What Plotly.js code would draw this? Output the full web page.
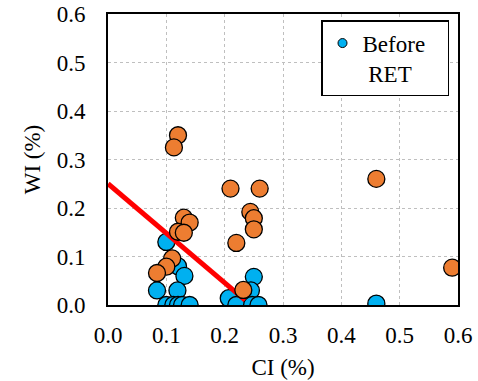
<!DOCTYPE html>
<html>
<head>
<meta charset="utf-8">
<script src="https://cdn.plot.ly/plotly-3.0.1.min.js"></script>
<style>html,body{margin:0;padding:0;background:#fff;}#chart{width:478px;height:381px;}</style>
</head>
<body>
<div id="chart"></div>
<script>
// Before RET (blue)
const beforeCI = [0.10, 0.12, 0.131, 0.084, 0.119, 0.10, 0.112, 0.12, 0.127, 0.14, 0.25, 0.245, 0.207, 0.22, 0.247, 0.258, 0.46];
const beforeWI = [0.13, 0.08, 0.06, 0.03, 0.03, 0.0, 0.0, 0.0, 0.0, 0.0, 0.058, 0.03, 0.014, 0.0, 0.0, 0.0, 0.003];
// After RET (orange)
const afterCI = [0.12, 0.113, 0.21, 0.26, 0.244, 0.25, 0.25, 0.22, 0.232, 0.46, 0.59, 0.13, 0.14, 0.12, 0.13, 0.11, 0.10, 0.084];
const afterWI = [0.35, 0.325, 0.24, 0.24, 0.192, 0.179, 0.156, 0.128, 0.031, 0.26, 0.077, 0.18, 0.17, 0.151, 0.149, 0.096, 0.079, 0.066];
// Red trend line
const lineCI = [0, 0.235];
const lineWI = [0.25, 0.01];
const xTicks = [0, 0.1, 0.2, 0.3, 0.4, 0.5, 0.6];
const yTicks = [0, 0.1, 0.2, 0.3, 0.4, 0.5, 0.6];
const legendName = 'Before\u00a0\u00a0\u00a0<br>\u00a0RET';

const font = {family: 'Times New Roman, Liberation Serif, DejaVu Serif, serif', size: 23, color: '#000'};

const traces = [
  {x: beforeCI, y: beforeWI, type: 'scatter', mode: 'markers', showlegend: false,
   marker: {color: '#00B0F0', size: 17, line: {color: '#000', width: 1.3}}},
  {x: lineCI, y: lineWI, type: 'scatter', mode: 'lines', showlegend: false,
   line: {color: '#FF0000', width: 5}},
  {x: afterCI, y: afterWI, type: 'scatter', mode: 'markers', showlegend: false,
   marker: {color: '#ED7D31', size: 17, line: {color: '#000', width: 1.3}}},
  {x: [null], y: [null], type: 'scatter', mode: 'markers', name: legendName, showlegend: true,
   marker: {color: '#00B0F0', size: 9, line: {color: '#000', width: 1}}}
];

const axisCommon = {
  showline: true, linecolor: '#000', linewidth: 2, mirror: true,
  showgrid: true, gridcolor: '#BFBFBF', gridwidth: 1, griddash: 'dot',
  zeroline: false, ticks: '', tickfont: font, tickformat: '.1f', fixedrange: true
};

const layout = {
  width: 478, height: 381,
  margin: {l: 108, r: 20, t: 14, b: 76},
  paper_bgcolor: '#fff', plot_bgcolor: '#fff',
  font: font,
  xaxis: Object.assign({}, axisCommon, {range: [0, 0.6], tickvals: xTicks, ticklabelstandoff: 8,
    title: {text: 'CI (%)', font: font, standoff: 12}}),
  yaxis: Object.assign({}, axisCommon, {range: [0, 0.6], tickvals: yTicks, ticklabelstandoff: 16,
    title: {text: 'WI (%)', font: font, standoff: 10}}),
  legend: {x: 0.6086, y: 0.979, xanchor: 'left', yanchor: 'top',
    bgcolor: '#fff', bordercolor: '#000', borderwidth: 1.5, font: font, valign: 'top'},
  showlegend: true
};

Plotly.newPlot('chart', traces, layout, {displayModeBar: false, staticPlot: true});
</script>
</body>
</html>
